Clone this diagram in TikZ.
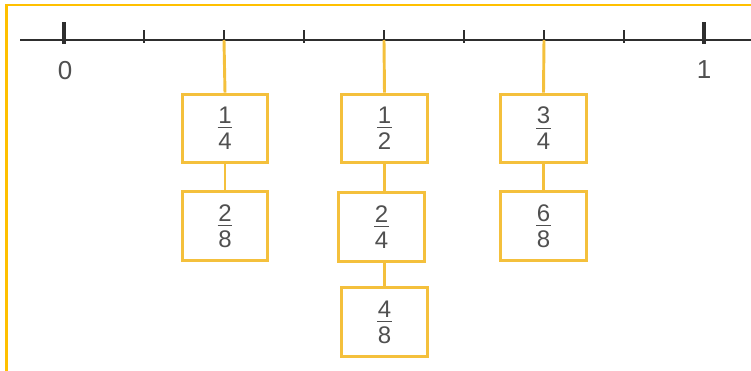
\documentclass[tikz,border=0pt]{standalone}
\usepackage{fontspec}
\setmainfont{Liberation Sans}
\usepackage{xcolor}
\definecolor{frame}{HTML}{FFC000}
\definecolor{boxline}{HTML}{F4C03C}
\definecolor{ink}{HTML}{2E2E2E}
\definecolor{muted}{HTML}{505050}
\usepackage{tikz}
\usetikzlibrary{positioning}
\newcommand{\fr}[2]{\vbox{\offinterlineskip\hbox to 12pt{\hss#1\hss}\kern2.5pt
  \hbox to 12pt{\hss\vrule width 11pt height 0.8pt\hss}\kern3.5pt
  \hbox to 12pt{\hss#2\hss}}}

\begin{document}
\begin{tikzpicture}[x=0.75pt,y=-0.75pt,
  frac/.style={draw=boxline,line width=2.2pt,fill=white,text=muted,
    minimum width=64pt,minimum height=51.5pt,inner sep=0pt,
    font=\fontsize{18}{20}\selectfont},
  link/.style={boxline,line width=2.2pt},
  small/.style={ink,line width=1.1pt},
  big/.style={ink,line width=3pt},
  num/.style={text=muted,font=\fontsize{19.5}{22}\selectfont}]
  \useasboundingbox (0,0) rectangle (751,371);
  % --- Cadre ---
  \draw[frame,line width=2pt] (6.5,371) -- (6.5,5) -- (751,5);

  % --- Droite graduée ---
  \draw[ink,line width=1.6pt] (20,40) -- (751,40);
  \foreach \i in {0,...,8} \coordinate (t\i) at (64+80*\i,40);
  \foreach \i in {1,...,7} \draw[small] ([yshift=7.5pt]t\i) -- ([yshift=-2.3pt]t\i);
  \foreach \i in {0,8} \draw[big] ([yshift=13.5pt]t\i) -- ([yshift=-3pt]t\i);
  \node[num] (lab0) at (65,71) {0};
  \node[num] (lab1) at (704,70) {1};

  % --- Fractions équivalentes ---
  \node[frac] (q1) at (225,128.5) {\fr{1}{4}};
  \node[frac] (q2) at (225,226) {\fr{2}{8}};
  \node[frac] (h1) at (384.5,128.5) {\fr{1}{2}};
  \node[frac] (h2) at (381.5,227) {\fr{2}{4}};
  \node[frac] (h3) at (384.5,322) {\fr{4}{8}};
  \node[frac] (r1) at (543.5,128.5) {\fr{3}{4}};
  \node[frac] (r2) at (543.5,226) {\fr{6}{8}};

  % --- Liens graduation -> cases ---
  \draw[link] (t2) -- (q1.north);
  \draw[link] (t4) -- (h1.north);
  \draw[link] (t6) -- (r1.north);
  \draw[link] (q1) -- (q2);
  \draw[link] (h1.south) -- (h1.south |- h2.north);
  \draw[link] (h3.north |- h2.south) -- (h3.north);
  \draw[link] (r1) -- (r2);
\end{tikzpicture}
\end{document}
